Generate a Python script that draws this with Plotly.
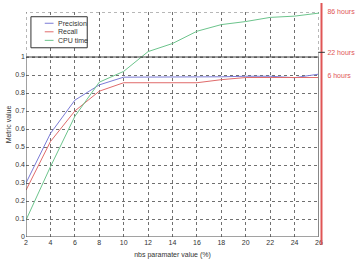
import plotly.graph_objects as go

x_vals = [2, 4, 6, 8, 10, 12, 14, 16, 18, 20, 22, 24, 26]
precision = [0.30, 0.575, 0.76, 0.845, 0.888, 0.888, 0.888, 0.888, 0.89, 0.893, 0.893, 0.885, 0.905]
recall = [0.26, 0.53, 0.70, 0.81, 0.857, 0.857, 0.857, 0.857, 0.874, 0.886, 0.886, 0.886, 0.886]
cpu_time = [0.094, 0.39, 0.67, 0.86, 0.92, 1.03, 1.075, 1.143, 1.18, 1.197, 1.22, 1.227, 1.244]

series_names = ["Precision", "Recall", "CPU time"]
series_colors = ["#7b7bd6", "#e06b6b", "#6cc48c"]

y_ticks = [0, 0.1, 0.2, 0.3, 0.4, 0.5, 0.6, 0.7, 0.8, 0.9, 1]
y_tick_text = ["0", "0.1", "0.2", "0.3", "0.4", "0.5", "0.6", "0.7", "0.8", "0.9", "1"]
x_ticks = [2, 4, 6, 8, 10, 12, 14, 16, 18, 20, 22, 24, 26]
time_tick_pos = [1.25, 1.026, 0.895]
time_tick_text = ["86 hours", "22 hours", "6 hours"]

FONT = "Liberation Sans, Arial, sans-serif"
font = dict(family=FONT, size=7, color="#333333")

fig = go.Figure()
for name, vals, col in zip(series_names, [precision, recall, cpu_time], series_colors):
    fig.add_trace(go.Scatter(x=x_vals, y=vals, mode="lines", name=name,
                             line=dict(color=col, width=1), showlegend=False))
# invisible trace to activate secondary axis
fig.add_trace(go.Scatter(x=[x_vals[0]], y=[0], yaxis="y2", mode="markers",
                         marker=dict(opacity=0), showlegend=False, hoverinfo="skip"))

fig.update_layout(
    width=363, height=266,
    margin=dict(l=23, r=43, t=8, b=19),
    paper_bgcolor="white", plot_bgcolor="white",
    font=font,
    showlegend=False,
    xaxis=dict(range=[2, 26], tickvals=x_ticks, showgrid=True,
               gridcolor="#707070", griddash="dot", gridwidth=1,
               zeroline=False, showline=False, ticks="", ticklen=0,
               title=dict(text="nbs paramater value (%)", standoff=7,
                          font=dict(size=7, color="#333333"))),
    yaxis=dict(range=[0, 1.25], tickvals=y_ticks, ticktext=y_tick_text,
               showgrid=True, gridcolor="#707070", griddash="dot", gridwidth=1,
               zeroline=False, showline=False, ticks="",
               title=dict(text="Metric value", standoff=2,
                          font=dict(size=7, color="#333333"))),
    yaxis2=dict(range=[0, 1.25], overlaying="y", side="right",
                tickvals=time_tick_pos, ticktext=time_tick_text,
                tickfont=dict(size=7, color="#e05555"),
                showgrid=False, zeroline=False, showline=False,
                ticks="outside", ticklen=6, tickcolor="rgba(0,0,0,0)"),
)

# dotted upper region border
fig.add_shape(type="rect", xref="x", yref="y", x0=2, x1=26, y0=1, y1=1.25,
              line=dict(color="#707070", width=1, dash="dot"), layer="below")
# solid lower box
fig.add_shape(type="rect", xref="x", yref="y", x0=2, x1=26, y0=0, y1=1,
              line=dict(color="#444444", width=1))
# right gray border
fig.add_shape(type="line", xref="x", yref="y", x0=26, x1=26, y0=0, y1=1,
              line=dict(color="#888888", width=2))
# red time axis line
fig.add_shape(type="line", xref="paper", yref="paper", x0=1.0085, x1=1.0085,
              y0=-0.035, y1=1.04, line=dict(color="#e05555", width=2))
# small tick at 22 hours
fig.add_shape(type="line", xref="paper", yref="y", x0=0.997, x1=1.02,
              y0=1.026, y1=1.026, line=dict(color="#333333", width=1))

# manual legend
fig.add_shape(type="rect", xref="paper", yref="paper", x0=0.0168, x1=0.209,
              y0=0.841, y1=0.979, line=dict(color="#333333", width=1),
              fillcolor="white", layer="above")
legend_y = [0.950, 0.912, 0.874]
for name, col, ly in zip(series_names, series_colors, legend_y):
    fig.add_shape(type="line", xref="paper", yref="paper", x0=0.064, x1=0.094,
                  y0=ly, y1=ly, line=dict(color=col, width=1), layer="above")
    fig.add_annotation(xref="paper", yref="paper", x=0.101, y=ly, text=name,
                       showarrow=False, xanchor="left", yanchor="middle",
                       font=dict(family=FONT, size=7, color="#333333"))

fig.write_html("out.html")
